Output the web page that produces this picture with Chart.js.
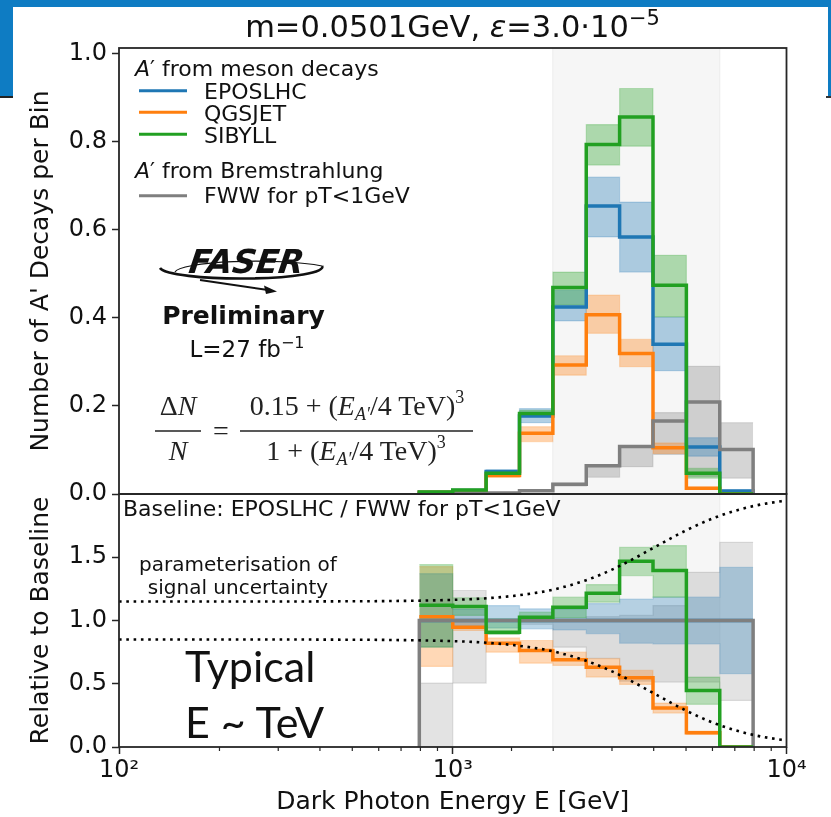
<!DOCTYPE html>
<html>
<head>
<meta charset="utf-8">
<script src="https://cdn.jsdelivr.net/npm/chart.js@4.4.1/dist/chart.umd.min.js"></script>
<style>
  html, body { margin: 0; padding: 0; background: #fff; }
  #wrap { position: relative; width: 831px; height: 817px; overflow: hidden; }
  #plot { position: absolute; left: 0; top: 0; }
  #notes { position: absolute; left: 0; top: 0; pointer-events: none; }
</style>
</head>
<body>
<div id="wrap">
  <canvas id="plot" width="831" height="817"></canvas>
  <svg id="notes" width="831" height="817" xmlns="http://www.w3.org/2000/svg" font-family="DejaVu Sans" fill="#111">
    <!-- slide frame -->
    <rect x="0" y="0" width="831" height="7" fill="#0e7cc3"/>
    <rect x="0" y="0" width="13" height="97" fill="#0e7cc3"/>
    <rect x="828" y="0" width="3" height="97" fill="#0e7cc3"/>
    <rect x="0" y="96" width="13" height="2" fill="#222"/>
    <rect x="826" y="96" width="5" height="2" fill="#333"/>

    <!-- title -->
    <text x="452.5" y="37" text-anchor="middle" font-size="30.5">m=0.0501GeV, <tspan font-style="italic">ε</tspan>=3.0·10<tspan dy="-12" font-size="21">−5</tspan></text>

    <!-- legend -->
    <g font-size="22">
      <text x="135" y="76"><tspan font-style="italic">A</tspan>′ from meson decays</text>
      <line id="hEpos" x1="139" x2="187" y1="90.7" y2="90.7" stroke-width="3"/>
      <text x="204" y="99">EPOSLHC</text>
      <line id="hQgs" x1="139" x2="187" y1="112.3" y2="112.3" stroke-width="3"/>
      <text x="204" y="121">QGSJET</text>
      <line id="hSib" x1="139" x2="187" y1="134.3" y2="134.3" stroke-width="3"/>
      <text x="204" y="143">SIBYLL</text>
      <text x="135" y="178"><tspan font-style="italic">A</tspan>′ from Bremstrahlung</text>
      <line id="hFww" x1="139" x2="187" y1="195.7" y2="195.7" stroke-width="3"/>
      <text x="204" y="203">FWW for pT&lt;1GeV</text>
    </g>

    <!-- experiment logo -->
    <g>
      <path d="M 175 272 A 81 11.5 0 0 1 322 266" fill="none" stroke="#111" stroke-width="1.1"/>
      <path d="M 160 268 A 81 11.5 0 0 0 322 266" fill="none" stroke="#111" stroke-width="2.6"/>
      <line x1="200" y1="280" x2="268" y2="290" stroke="#111" stroke-width="2"/>
      <polygon points="277,291.5 264,285.5 266,294" fill="#111"/>
      <text x="188" y="273" font-size="33" font-weight="bold" font-style="italic" textLength="115" lengthAdjust="spacingAndGlyphs" transform="translate(38 0) skewX(-8)">FASER</text>
    </g>
    <text x="243.5" y="324" text-anchor="middle" font-size="25" font-weight="bold">Preliminary</text>
    <text x="247" y="357" text-anchor="middle" font-size="23">L=27 fb<tspan dy="-9" font-size="16">−1</tspan></text>

    <!-- signal uncertainty parameterisation -->
    <g font-family="Liberation Serif" font-size="28" fill="#222">
      <text x="178" y="415" text-anchor="middle">Δ<tspan font-style="italic">N</tspan></text>
      <line x1="155" x2="201" y1="431" y2="431" stroke="#222" stroke-width="1.3"/>
      <text x="178" y="460" text-anchor="middle" font-style="italic">N</text>
      <text x="221" y="440" text-anchor="middle">=</text>
      <text x="357" y="415" text-anchor="middle">0.15 + (<tspan font-style="italic">E</tspan><tspan font-style="italic" font-size="18" dy="5">A′</tspan><tspan dy="-5">/4 TeV)</tspan><tspan font-size="18" dy="-12">3</tspan></text>
      <line x1="240" x2="473" y1="431" y2="431" stroke="#222" stroke-width="1.3"/>
      <text x="356" y="460" text-anchor="middle">1 + (<tspan font-style="italic">E</tspan><tspan font-style="italic" font-size="18" dy="5">A′</tspan><tspan dy="-5">/4 TeV)</tspan><tspan font-size="18" dy="-12">3</tspan></text>
    </g>

    <!-- lower panel notes -->
    <text x="123" y="516" font-size="22">Baseline: EPOSLHC / FWW for pT&lt;1GeV</text>
    <text x="238" y="571" text-anchor="middle" font-size="20">parameterisation of</text>
    <text x="238" y="594" text-anchor="middle" font-size="20">signal uncertainty</text>
    <text x="185" y="682" font-family="Lato" font-size="43">Typical</text>
    <text x="185" y="738" font-family="Lato" font-size="43">E ~ TeV</text>
  </svg>
</div>
<script>
// Energy bin edges in GeV (10 bins per decade)
const BIN_EDGES = [794, 1000, 1259, 1585, 1995, 2512, 3162, 3981, 5012, 6310, 7943];

// Number of A' decays per bin (upper panel), with uncertainty band edges
const EPOSLHC      = [0.004, 0.008, 0.051, 0.177, 0.425, 0.654, 0.584, 0.340, 0.107, 0.007];
const EPOSLHC_LOW  = [0.003, 0.007, 0.047, 0.162, 0.393, 0.584, 0.504, 0.280, 0.086, 0.005];
const EPOSLHC_HIGH = [0.005, 0.009, 0.055, 0.194, 0.463, 0.720, 0.663, 0.402, 0.128, 0.009];

const QGSJET       = [0.004, 0.0076, 0.042, 0.138, 0.293, 0.407, 0.319, 0.105, 0.013, 0.0];
const QGSJET_LOW   = [0.003, 0.0072, 0.038, 0.119, 0.270, 0.365, 0.289, 0.092, 0.011, 0.0];
const QGSJET_HIGH  = [0.005, 0.0080, 0.045, 0.153, 0.314, 0.452, 0.351, 0.116, 0.015, 0.0];

const SIBYLL       = [0.0045, 0.009, 0.047, 0.183, 0.469, 0.794, 0.856, 0.474, 0.047, 0.0];
const SIBYLL_LOW   = [0.0030, 0.008, 0.044, 0.176, 0.429, 0.747, 0.790, 0.402, 0.036, 0.0];
const SIBYLL_HIGH  = [0.0060, 0.010, 0.050, 0.190, 0.504, 0.839, 0.921, 0.542, 0.058, 0.0];

const FWW          = [0.001, 0.002, 0.002, 0.0075, 0.022, 0.064, 0.108, 0.166, 0.209, 0.101];
const FWW_LOW      = [0.001, 0.002, 0.002, 0.0070, 0.018, 0.038, 0.062, 0.090, 0.040, 0.036];
const FWW_HIGH     = [0.001, 0.002, 0.002, 0.0080, 0.024, 0.066, 0.108, 0.185, 0.290, 0.162];

// Ratios to the baseline (lower panel)
const R_EPOSLHC      = [1, 1, 1, 1, 1, 1, 1, 1, 1, 1];
const R_EPOSLHC_LOW  = [0.79, 0.96, 0.94, 0.934, 0.925, 0.897, 0.82, 0.816, 0.816, 0.579];
const R_EPOSLHC_HIGH = [1.37, 1.09, 1.118, 1.092, 1.09, 1.134, 1.17, 1.184, 1.184, 1.421];

const R_QGSJET      = [1.03, 0.947, 0.821, 0.763, 0.69, 0.631, 0.547, 0.308, 0.113, 0.0];
const R_QGSJET_LOW  = [0.637, 0.921, 0.75, 0.663, 0.645, 0.553, 0.495, 0.268, 0.10, 0.0];
const R_QGSJET_HIGH = [1.426, 0.987, 0.862, 0.842, 0.75, 0.698, 0.605, 0.347, 0.125, 0.0];

const R_SIBYLL      = [1.12, 1.11, 0.908, 1.026, 1.105, 1.215, 1.468, 1.395, 0.447, 0.0];
const R_SIBYLL_LOW  = [0.789, 1.04, 0.89, 0.99, 1.02, 1.145, 1.355, 1.184, 0.337, 0.0];
const R_SIBYLL_HIGH = [1.442, 1.18, 1.013, 1.066, 1.184, 1.284, 1.579, 1.592, 0.553, 0.0];

const R_FWW      = [1, 1, 1, 1, 1, 1, 1, 1, 1, 1];
const R_FWW_LOW  = [0.0, 0.505, 1.0, 0.97, 0.789, 0.70, 0.52, 0.513, 0.513, 0.368];
const R_FWW_HIGH = [0.505, 1.237, 1.0, 1.03, 1.0, 1.03, 1.04, 1.118, 1.381, 1.618];

// 1 ± dN/N signal-uncertainty envelope
const PARAM_E     = [100, 150, 200, 300, 400, 500, 600, 700, 800, 1000, 1200, 1500, 1800, 2000, 2500, 3000, 3500, 4000, 4500, 5000, 6000, 7000, 8000, 9000, 10000];
const PARAM_UPPER = [1.150, 1.150, 1.150, 1.150, 1.151, 1.152, 1.153, 1.155, 1.157, 1.163, 1.172, 1.193, 1.221, 1.244, 1.317, 1.402, 1.491, 1.575, 1.649, 1.712, 1.806, 1.866, 1.906, 1.931, 1.949];
const PARAM_LOWER = [0.850, 0.850, 0.850, 0.850, 0.849, 0.848, 0.847, 0.845, 0.843, 0.837, 0.828, 0.807, 0.779, 0.756, 0.683, 0.598, 0.509, 0.425, 0.351, 0.288, 0.194, 0.134, 0.094, 0.069, 0.051];

// Typical-energy window shaded behind both panels
const TYPICAL_RANGE = [1995, 6310];

const X_TICKS = [100, 1000, 10000];
const TOP_Y_TICKS = [0, 0.2, 0.4, 0.6, 0.8, 1.0];
const RATIO_Y_TICKS = [0, 0.5, 1.0, 1.5];

const COLORS = { epos: '#1f77b4', qgs: '#ff7f0e', sib: '#22a022', fww: '#7f7f7f' };

function rgba(hex, a) {
  const n = parseInt(hex.slice(1), 16);
  return `rgba(${(n >> 16) & 255},${(n >> 8) & 255},${n & 255},${a})`;
}

// histogram outline: a horizontal run per bin, verticals at the edges
function steps(vals, dropStart, dropEnd) {
  const pts = [];
  if (dropStart) pts.push({ x: BIN_EDGES[0], y: 0 });
  vals.forEach((v, i) => {
    pts.push({ x: BIN_EDGES[i], y: v });
    pts.push({ x: BIN_EDGES[i + 1], y: v });
  });
  if (dropEnd) pts.push({ x: BIN_EDGES[BIN_EDGES.length - 1], y: 0 });
  return pts;
}

function histLine(label, vals, color, axis, dropStart, dropEnd) {
  return {
    label, data: steps(vals, dropStart, dropEnd), yAxisID: axis, xAxisID: 'x',
    borderColor: color, borderWidth: 3.5, pointRadius: 0, fill: false, tension: 0,
    borderJoinStyle: 'miter', borderCapStyle: 'butt'
  };
}

function band(label, lo, hi, color, axis, alpha) {
  const edge = rgba(color, 0.22);
  return [
    { label: label + ' low', data: steps(lo), yAxisID: axis, xAxisID: 'x',
      borderColor: edge, borderWidth: 1.2, pointRadius: 0, fill: false, tension: 0 },
    { label: label + ' high', data: steps(hi), yAxisID: axis, xAxisID: 'x',
      borderColor: edge, borderWidth: 1.2, pointRadius: 0, tension: 0,
      fill: '-1', backgroundColor: rgba(color, alpha) }
  ];
}

function envelope(label, vals) {
  return {
    label, data: PARAM_E.map((e, i) => ({ x: e, y: vals[i] })), yAxisID: 'y2', xAxisID: 'x',
    borderColor: '#000', borderWidth: 2.6, borderDash: [2.6, 4.7], pointRadius: 0,
    fill: false, cubicInterpolationMode: 'monotone'
  };
}

// legend handle colours
document.getElementById('hEpos').setAttribute('stroke', COLORS.epos);
document.getElementById('hQgs').setAttribute('stroke', COLORS.qgs);
document.getElementById('hSib').setAttribute('stroke', COLORS.sib);
document.getElementById('hFww').setAttribute('stroke', COLORS.fww);

const datasets = [
  envelope('1 + dN/N', PARAM_UPPER),
  envelope('1 - dN/N', PARAM_LOWER),

  histLine('SIBYLL', SIBYLL, COLORS.sib, 'y', true, true),
  histLine('FWW for pT<1GeV', FWW, COLORS.fww, 'y', true, true),
  histLine('QGSJET', QGSJET, COLORS.qgs, 'y', true, true),
  histLine('EPOSLHC', EPOSLHC, COLORS.epos, 'y', true, true),

  histLine('SIBYLL ratio', R_SIBYLL, COLORS.sib, 'y2', false, false),
  histLine('FWW ratio', R_FWW, COLORS.fww, 'y2', true, true),
  histLine('QGSJET ratio', R_QGSJET, COLORS.qgs, 'y2', false, false),
  histLine('EPOSLHC ratio', R_EPOSLHC, COLORS.epos, 'y2', false, false),

  ...band('SIBYLL', SIBYLL_LOW, SIBYLL_HIGH, COLORS.sib, 'y', 0.35),
  ...band('EPOSLHC', EPOSLHC_LOW, EPOSLHC_HIGH, COLORS.epos, 'y', 0.35),
  ...band('QGSJET', QGSJET_LOW, QGSJET_HIGH, COLORS.qgs, 'y', 0.35),
  ...band('FWW', FWW_LOW, FWW_HIGH, COLORS.fww, 'y', 0.33),

  ...band('SIBYLL ratio', R_SIBYLL_LOW, R_SIBYLL_HIGH, COLORS.sib, 'y2', 0.3),
  ...band('EPOSLHC ratio', R_EPOSLHC_LOW, R_EPOSLHC_HIGH, COLORS.epos, 'y2', 0.3),
  ...band('QGSJET ratio', R_QGSJET_LOW, R_QGSJET_HIGH, COLORS.qgs, 'y2', 0.3),
  ...band('FWW ratio', R_FWW_LOW, R_FWW_HIGH, COLORS.fww, 'y2', 0.22)
];

const isDecade = v => { const e = Math.log10(v); return Math.abs(e - Math.round(e)) < 1e-6; };
const SUP = { 2: '²', 3: '³', 4: '⁴' };

const panelDecor = {
  id: 'panelDecor',
  beforeDatasetsDraw(chart) {
    const { ctx, chartArea: a, scales: { x } } = chart;
    const x0 = x.getPixelForValue(TYPICAL_RANGE[0]);
    const x1 = x.getPixelForValue(TYPICAL_RANGE[1]);
    ctx.save();
    ctx.fillStyle = '#f6f6f6';
    ctx.fillRect(x0, a.top, x1 - x0, a.bottom - a.top);
    ctx.strokeStyle = '#ececec';
    ctx.lineWidth = 1;
    ctx.beginPath();
    ctx.moveTo(x0, a.top); ctx.lineTo(x0, a.bottom);
    ctx.moveTo(x1, a.top); ctx.lineTo(x1, a.bottom);
    ctx.stroke();
    ctx.restore();
  },
  afterDatasetsDraw(chart) {
    const { ctx, chartArea: a, scales: { x, y, y2 } } = chart;
    ctx.save();
    ctx.strokeStyle = '#262626';
    ctx.lineWidth = 1.8;
    [y, y2].forEach(s => ctx.strokeRect(a.left, s.top, a.right - a.left, s.bottom - s.top));
    // short minor ticks on the energy axis
    ctx.lineWidth = 1.2;
    ctx.beginPath();
    x.ticks.forEach(t => {
      if (!isDecade(t.value)) {
        const px = x.getPixelForValue(t.value);
        ctx.moveTo(px, a.bottom);
        ctx.lineTo(px, a.bottom + 4);
      }
    });
    ctx.stroke();
    ctx.restore();
  }
};

const tickFont = { family: 'DejaVu Sans', size: 24 };
const titleFont = { family: 'DejaVu Sans', size: 25 };

const yGrid = { display: true, drawOnChartArea: false, drawTicks: true, tickLength: 7, tickWidth: 1.5, tickColor: '#262626' };

new Chart(document.getElementById('plot'), {
  type: 'line',
  data: { datasets },
  options: {
    responsive: false,
    animation: false,
    devicePixelRatio: 1,
    layout: { padding: { top: 48, right: 44.5, bottom: 0, left: 0 } },
    plugins: { legend: { display: false }, tooltip: { enabled: false }, title: { display: false } },
    scales: {
      x: {
        type: 'logarithmic', position: 'bottom', min: 100, max: 10000,
        afterFit: s => { s.height = 70; },
        border: { display: false },
        grid: {
          display: true, drawOnChartArea: false, drawTicks: true, tickLength: 7, tickWidth: 1.5,
          tickColor: c => (c.tick && isDecade(c.tick.value)) ? '#262626' : 'rgba(0,0,0,0)'
        },
        ticks: {
          autoSkip: false, maxRotation: 0, minRotation: 0, padding: 2, color: '#111', font: tickFont,
          callback: v => (X_TICKS.includes(v) ? '10' + SUP[Math.round(Math.log10(v))] : '')
        },
        title: { display: true, text: 'Dark Photon Energy E [GeV]', color: '#111', font: titleFont, padding: { top: 0, bottom: 0 } }
      },
      // lower (ratio) panel
      y2: {
        type: 'linear', position: 'left', stack: 'panels', stackWeight: 253,
        min: 0, max: 2.0,
        afterFit: s => { s.width = 119; },
        afterBuildTicks: s => { s.ticks = RATIO_Y_TICKS.map(v => ({ value: v })); },
        border: { display: false },
        grid: yGrid,
        ticks: { padding: 5, color: '#111', font: tickFont, callback: v => v.toFixed(1) },
        title: { display: true, text: 'Relative to Baseline', color: '#111', font: titleFont, padding: { top: 26, bottom: 0 } }
      },
      // upper (decays per bin) panel
      y: {
        type: 'linear', position: 'left', stack: 'panels', stackWeight: 446,
        min: 0, max: 1.013,
        afterFit: s => { s.width = 119; },
        afterBuildTicks: s => { s.ticks = TOP_Y_TICKS.map(v => ({ value: v })); },
        border: { display: false },
        grid: yGrid,
        ticks: { padding: 5, color: '#111', font: tickFont, callback: v => v.toFixed(1) },
        title: { display: true, text: "Number of A' Decays per Bin", color: '#111', font: titleFont, padding: { top: 26, bottom: 0 } }
      }
    }
  },
  plugins: [panelDecor]
});
</script>
</body>
</html>
